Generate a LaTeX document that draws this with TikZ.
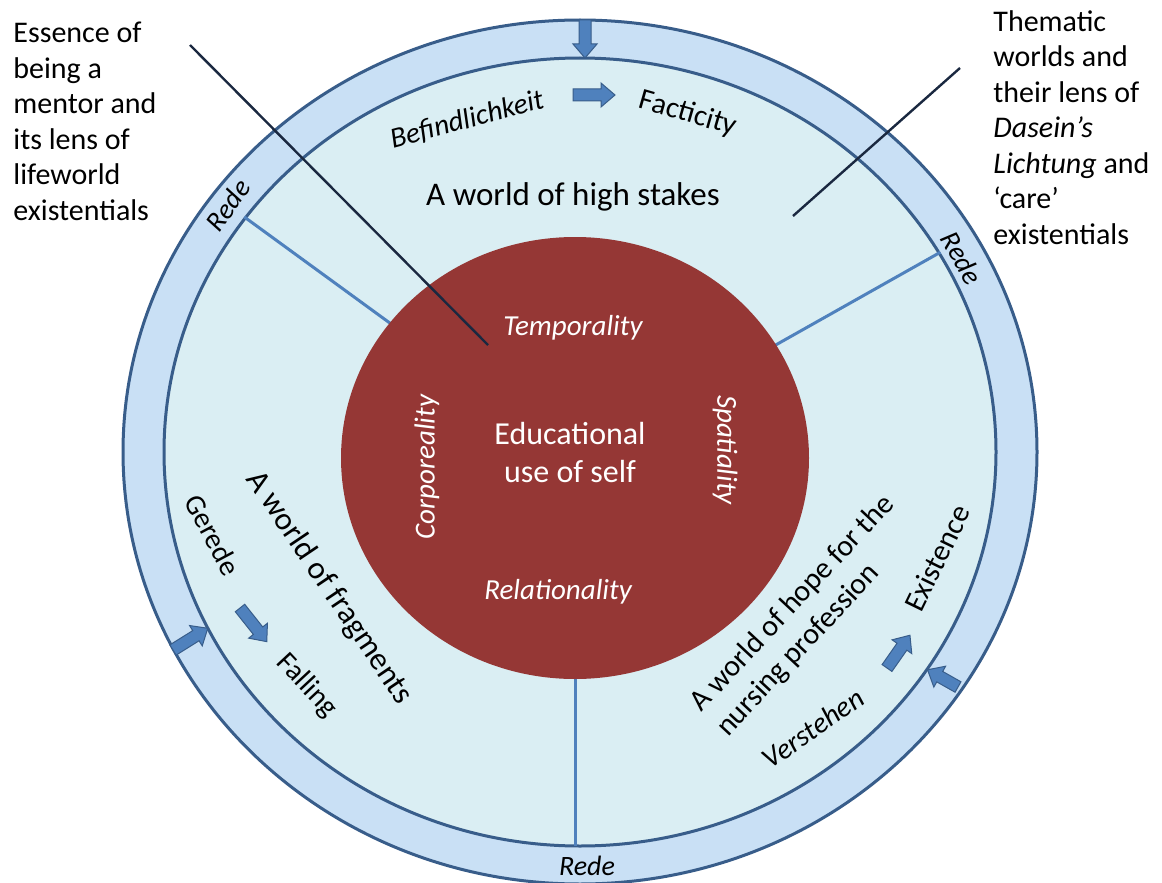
\documentclass[tikz,border=0pt]{standalone}
\usepackage{fontspec}
\setmainfont{Carlito}
\usetikzlibrary{shapes.geometric}
\definecolor{ringfill}{HTML}{C9E0F5}
\definecolor{innerfill}{HTML}{DAEEF3}
\definecolor{redfill}{HTML}{953735}
\definecolor{edge}{HTML}{385D8A}
\definecolor{spoke}{HTML}{4F81BD}
\definecolor{pointer}{HTML}{1A2840}
\newcommand{\blockarr}[3]{\draw[barr, shift={(#1)}, rotate=#2] (0,-6) -- ({#3-14},-6) -- ({#3-14},-12) -- (#3,0) -- ({#3-14},12) -- ({#3-14},6) -- (0,6) -- cycle;}
\begin{document}
\begin{tikzpicture}[x=0.5pt,y=-0.5pt,
  ringshape/.style={draw=edge, line width=1.5pt, ellipse, inner sep=0pt},
  spokeline/.style={draw=spoke, line width=1.5pt},
  pointerline/.style={draw=pointer, line width=1.2pt},
  barr/.style={fill=spoke, draw=edge, line width=0.5pt, line join=miter},
  lbl/.style={inner sep=0pt, text=black, font=\fontsize{14.5}{17.75}\selectfont},
  ilbl/.style={inner sep=0pt, text=black, font=\fontsize{14.5}{17.75}\selectfont\itshape},
  big/.style={inner sep=0pt, text=black, font=\fontsize{16.5}{20}\selectfont},
  redelbl/.style={inner sep=0pt, text=black, font=\fontsize{14}{16}\selectfont\itshape},
  wlbl/.style={inner sep=0pt, text=white, font=\fontsize{14.5}{17}\selectfont\itshape},
]
\useasboundingbox (0,0) rectangle (1162,883);
\fill[white] (0,0) rectangle (1162,883);

% circles
\node[ringshape, fill=ringfill, minimum width=457pt, minimum height=432pt] (outer) at (580,452) {};
\node[ringshape, fill=innerfill, minimum width=416pt, minimum height=394pt] (inner) at (580,452) {};

% spokes
\draw[spokeline] (inner.145) -- (575,458);
\draw[spokeline] (inner.29) -- (575,458);
\draw[spokeline] (575,458) -- (575,846);

\node[ellipse, fill=redfill, inner sep=0pt, minimum width=234pt, minimum height=221pt] (red) at (575,458) {};

% texts in the circle
\node[wlbl] (temp) at (573,328) {Temporality};
\node[wlbl] (rel) at (558,592) {Relationality};
\node[wlbl, rotate=90] (corp) at (427,467) {Corporeality};
\node[wlbl, rotate=-90] (spat) at (725,450) {Spatiality};
\node[inner sep=0pt, text=white, align=center, font=\fontsize{16}{19}\selectfont] (edu) at (570,453) {Educational\\use of self};

\node[big] (stakes) at (573,197) {A world of high stakes};
\node[ilbl, rotate=15] (befind) at (467,120) {Befindlichkeit};
\node[lbl, font=\fontsize{15}{18}\selectfont, rotate=-16] (fact) at (688,114) {Facticity};

\node[redelbl, rotate=55] (rede1) at (228,205) {Rede};
\node[redelbl, rotate=-60] (rede2) at (962,258) {Rede};
\node[redelbl] (rede3) at (587,866) {Rede};

\node[lbl, rotate=-62] (gerede) at (213,535) {Gerede};
\node[lbl, rotate=-47] (falling) at (307,686) {Falling};
\node[big, font=\fontsize{16}{19}\selectfont, rotate=-56] (frag) at (329,588) {A world of fragments};

\node[lbl, font=\fontsize{15}{18}\selectfont, rotate=47, align=left] (hope) at (806,616) {A world of hope for the\\nursing profession};
\node[lbl, font=\fontsize{15}{18}\selectfont, rotate=64] (exist) at (937,558) {Existence};
\node[ilbl, rotate=35] (verst) at (813,728) {Verstehen};

% annotations
\node[lbl, font=\fontsize{15}{17.75}\selectfont, anchor=north west, align=left] (essence) at (13,22) {Essence of\\being a\\mentor and\\its lens of\\lifeworld\\existentials};
\node[lbl, font=\fontsize{15}{17.75}\selectfont, anchor=north west, align=left] (thematic) at (993,10) {Thematic\\worlds and\\their lens of\\\textit{Dasein's}\\\textit{Lichtung} and\\`care'\\existentials};

\coordinate (p1a) at (190,45);
\coordinate (p1b) at (488,345);
\coordinate (p2a) at (960,68);
\coordinate (p2b) at (793,216);
\draw[pointerline] (p1a) -- (p1b);
\draw[pointerline] (p2a) -- (p2b);

% block arrows
\blockarr{585,20}{-90}{38}
\blockarr{573,95}{0}{42}
\blockarr{173,650}{32}{41}
\blockarr{240,608}{-51.5}{43}
\blockarr{958,687}{150.5}{35}
\blockarr{887,668}{55}{40}
\end{tikzpicture}
\end{document}
